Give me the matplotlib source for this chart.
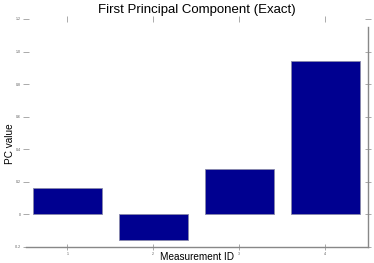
import matplotlib
matplotlib.use("Agg")
import matplotlib.pyplot as plt

plt.rcParams["font.family"] = ["Liberation Sans", "DejaVu Sans"]

# values
measurement_ids = [1, 2, 3, 4]
pc_values = [0.16, -0.155, 0.278, 0.94]
y_ticks = [-0.2, 0.0, 0.2, 0.4, 0.6, 0.8, 1.0, 1.2]
y_tick_labels = ["-0.2", "0", "0.2", "0.4", "0.6", "0.8", "1.0", "1.2"]

fig = plt.figure(figsize=(3.74, 2.63), dpi=100)
ax = fig.add_axes([0.0695, 0.061, 0.915, 0.867])

ax.bar(measurement_ids, pc_values, width=0.8, color="#000090",
       edgecolor="#8888aa", linewidth=0.6)

ax.set_xlim(0.52, 4.5)
ax.set_ylim(-0.2, 1.2)
ax.set_xticks(measurement_ids)
ax.set_yticks(y_ticks)
ax.set_yticklabels(y_tick_labels)

ax.tick_params(axis="both", direction="inout", length=4, width=0.5,
               colors="#888888", labelsize=2.5, labelcolor="#555555",
               top=True, right=True, pad=1.5)

for side in ["left", "top"]:
    ax.spines[side].set_visible(False)
for side in ["right", "bottom"]:
    ax.spines[side].set_color("#888888")
    ax.spines[side].set_linewidth(1.0)
# right frame line starts a bit below the top of the plot area
ax.spines["right"].set_bounds(-0.2, 1.15)

ax.set_title("First Principal Component (Exact)", fontsize=9.5, pad=4)
# place axis labels by hand, the plot area nearly fills the figure
fig.text(0.527, 0.022, "Measurement ID", fontsize=7.2, ha="center", va="center")
fig.text(0.027, 0.452, "PC value", fontsize=7.2, ha="center", va="center",
         rotation=90)

fig.savefig("out.png", dpi=100)
